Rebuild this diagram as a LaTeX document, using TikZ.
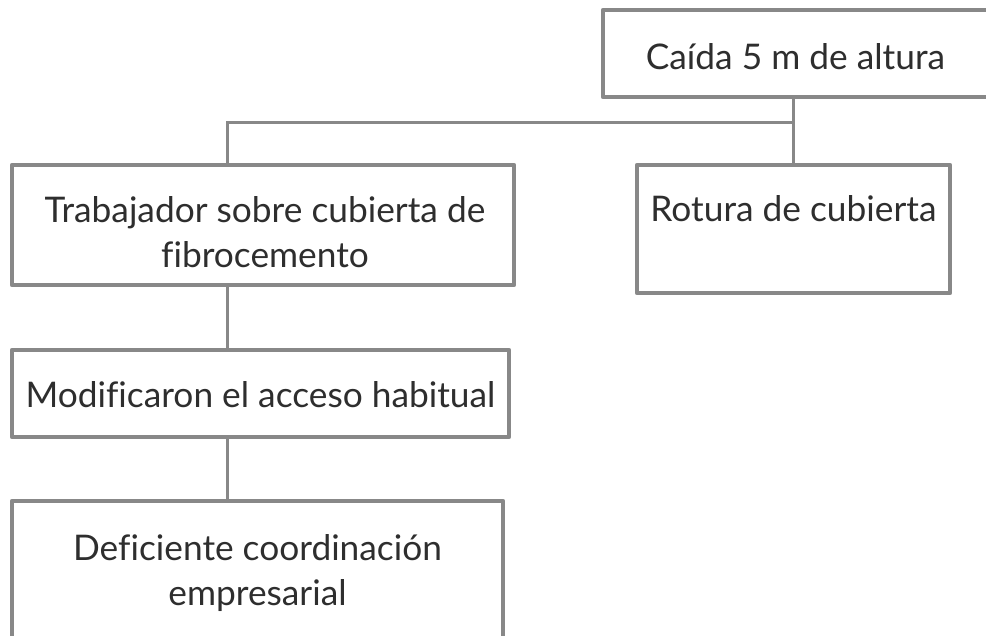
\documentclass[tikz,border=0pt]{standalone}
\usepackage{fontspec}
\setmainfont{Lato}[Ligatures=NoCommon]
\definecolor{boxgray}{HTML}{888888}
\definecolor{textgray}{HTML}{2E2E2E}
\newcommand{\twolines}[2]{\begin{tabular}[t]{@{}c@{}}#1\\#2\end{tabular}}
\begin{document}
\begin{tikzpicture}[x=1pt,y=-1pt,
  box/.style={draw=boxgray, line width=4.5pt, line join=round, fill=white, inner sep=0pt},
  txt/.style={inner sep=0pt, anchor=base,
    font=\fontsize{35.3}{45}\selectfont, text=textgray},
  link/.style={draw=boxgray, line width=3pt}]
\useasboundingbox (0,0) rectangle (986,636);
\clip (0,0) rectangle (986,636);
\coordinate (cl) at (227,0);
\coordinate (cr) at (793,0);
\coordinate (jy) at (0,122.5);
\node[box, minimum width=385pt, minimum height=87pt] (top) at (795.5,53.5) {};
\node[box, minimum width=502pt, minimum height=120pt] (trab) at (263,225) {};
\node[box, minimum width=313pt, minimum height=128pt] (rot) at (793.5,229) {};
\node[box, minimum width=497pt, minimum height=87pt] (mod) at (260.5,393.5) {};
\node[box, minimum width=491pt, minimum height=149pt] (def) at (257.5,575.5) {};
\node[txt] (topt) at (795.5,70) {Caída 5 m de altura};
\node[txt] (trabt) at (265,223) {\twolines{Trabajador sobre cubierta de}{fibrocemento}};
\node[txt] (rott) at (793.5,222) {Rotura de cubierta};
\node[txt] (modt) at (260.5,407) {Modificaron el acceso habitual};
\node[txt] (deft) at (257.5,560) {\twolines{Deficiente coordinación}{empresarial}};
\draw[link] (top.south -| cr) -- (rot.north -| cr);
\draw[link] (jy -| cr) -- (jy -| cl) -- (trab.north -| cl);
\draw[link] (trab.south -| cl) -- (mod.north -| cl);
\draw[link] (mod.south -| cl) -- (def.north -| cl);
\end{tikzpicture}
\end{document}
